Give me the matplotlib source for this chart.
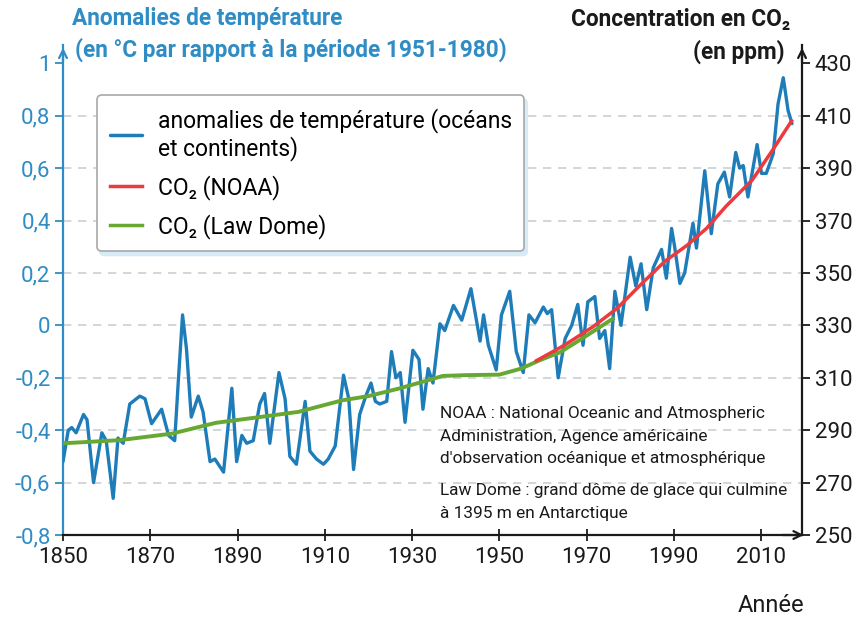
import matplotlib
matplotlib.use('Agg')
import matplotlib.pyplot as plt
from matplotlib.ticker import FixedLocator, FuncFormatter

FONT = ['Roboto', 'DejaVu Sans']
plt.rcParams['font.family'] = FONT

# ---- data ----
temp_years = [1850.0, 1851.2, 1852.0, 1853.0, 1854.7, 1855.5, 1857.0, 1858.9, 1859.9, 1861.5,
              1862.6, 1863.8, 1865.3, 1867.6, 1868.8, 1870.3, 1872.6, 1874.2, 1875.6, 1876.4,
              1877.4, 1878.3, 1879.4, 1881.0, 1882.1, 1883.7, 1884.8, 1886.8, 1888.7, 1889.8,
              1891.0, 1892.1, 1893.6, 1895.1, 1896.2, 1897.4, 1899.5, 1900.9, 1902.0, 1903.5,
              1905.5, 1906.6, 1908.1, 1909.7, 1910.8, 1912.4, 1914.3, 1915.5, 1916.6, 1918.0,
              1919.4, 1920.6, 1921.6, 1922.6, 1924.2, 1925.3, 1926.3, 1927.3, 1928.4, 1930.2,
              1931.6, 1932.5, 1933.7, 1934.8, 1936.4, 1937.5, 1939.5, 1941.4, 1943.5, 1945.6,
              1946.4, 1947.5, 1949.3, 1950.5, 1952.4, 1953.9, 1955.5, 1956.8, 1958.2, 1960.1,
              1961.0, 1962.0, 1963.5, 1965.1, 1966.6, 1968.0, 1969.2, 1970.3, 1971.9, 1973.0,
              1974.2, 1975.3, 1976.5, 1977.9, 1980.0, 1981.3, 1982.5, 1983.8, 1985.3, 1987.2,
              1988.3, 1989.5, 1990.2, 1991.4, 1992.5, 1994.4, 1995.2, 1997.1, 1998.6, 2000.1,
              2001.6, 2002.8, 2004.2, 2005.1, 2005.9, 2007.0, 2009.1, 2010.1, 2011.2, 2012.8,
              2013.9, 2015.1, 2016.2, 2017.1]
temp_values = [-0.52, -0.40, -0.39, -0.41, -0.34, -0.36, -0.60, -0.41, -0.44, -0.66,
               -0.43, -0.45, -0.30, -0.27, -0.28, -0.375, -0.32, -0.42, -0.44, -0.22,
               0.04, -0.09, -0.35, -0.27, -0.33, -0.52, -0.51, -0.56, -0.24, -0.52,
               -0.42, -0.45, -0.44, -0.30, -0.26, -0.45, -0.18, -0.28, -0.50, -0.53,
               -0.29, -0.48, -0.51, -0.53, -0.51, -0.46, -0.19, -0.28, -0.55, -0.34,
               -0.27, -0.22, -0.29, -0.30, -0.29, -0.10, -0.20, -0.18, -0.37, -0.095,
               -0.13, -0.32, -0.165, -0.22, 0.006, -0.02, 0.076, 0.02, 0.14, -0.06,
               0.04, -0.076, -0.17, 0.04, 0.13, -0.10, -0.18, 0.04, 0.01, 0.07,
               0.045, 0.06, -0.20, -0.05, 0.0, 0.08, -0.076, 0.09, 0.11, -0.05,
               -0.02, -0.165, 0.13, 0.0, 0.26, 0.15, 0.235, 0.06, 0.22, 0.29,
               0.18, 0.37, 0.30, 0.16, 0.20, 0.39, 0.295, 0.59, 0.35, 0.54,
               0.585, 0.49, 0.66, 0.60, 0.61, 0.49, 0.69, 0.58, 0.58, 0.655,
               0.845, 0.945, 0.82, 0.77]

co2_law_years = [1850, 1863, 1875, 1885, 1895, 1904, 1914, 1920, 1927, 1935,
                 1937, 1942, 1950, 1955, 1959, 1964, 1969, 1976]
co2_law_ppm = [285, 286.2, 288.7, 292.8, 295, 297, 301.4, 303, 305.9, 309.7,
               310.7, 311, 311.2, 313.5, 316.5, 319.8, 325, 332.5]

co2_noaa_years = [1958.5, 1965, 1971.5, 1977, 1983, 1988, 1993, 1997.5, 2002, 2008, 2012.7, 2017]
co2_noaa_ppm = [316.5, 322.5, 329.5, 336.5, 346.5, 354.5, 360.5, 367, 375.5, 385.5, 397, 408]

x_ticks = [1850, 1870, 1890, 1910, 1930, 1950, 1970, 1990, 2010]
temp_ticks = [-0.8, -0.6, -0.4, -0.2, 0, 0.2, 0.4, 0.6, 0.8, 1]
grid_levels = [-0.6, -0.4, -0.2, 0, 0.2, 0.4, 0.6, 0.8]
ppm_ticks = [250, 270, 290, 310, 330, 350, 370, 390, 410, 430]

label_temp = "anomalies de température (océans\net continents)"
label_noaa = "CO₂ (NOAA)"
label_law = "CO₂ (Law Dome)"

BLUE = '#1e7db9'
AXBLUE = '#2f8cc4'
RED = '#ec3b3f'
GREEN = '#66a832'
DARK = '#1a1a1a'

fig = plt.figure(figsize=(8.68, 6.24), dpi=100)
fig.patch.set_facecolor('white')
ax = fig.add_axes([0.0726, 0.1426, 0.8514, 0.7853])
ax2 = ax.twinx()

ax.set_xlim(1850, 2019.4)
ax.set_ylim(-0.8, 1.07)
ax2.set_ylim(250, 437)

for g in grid_levels:
    ax.axhline(g, color='#c9cfd6', lw=1.2, dashes=(5, 4), zorder=0)

l1, = ax.plot(temp_years, temp_values, color=BLUE, lw=2.4, solid_joinstyle='round',
              solid_capstyle='round', zorder=3, label=label_temp)
l3, = ax2.plot(co2_law_years, co2_law_ppm, color=GREEN, lw=2.8, zorder=3, label=label_law)
l2, = ax2.plot(co2_noaa_years, co2_noaa_ppm, color=RED, lw=2.5, zorder=4, label=label_noaa)

# spines
ax.spines['top'].set_visible(False)
ax2.spines['top'].set_visible(False)
ax.spines['right'].set_visible(False)
ax2.spines['left'].set_visible(False)
ax2.spines['bottom'].set_visible(False)
ax.spines['left'].set_color(AXBLUE)
ax.spines['left'].set_linewidth(1.6)
ax.spines['bottom'].set_color(DARK)
ax.spines['bottom'].set_linewidth(1.6)
ax2.spines['right'].set_color(DARK)
ax2.spines['right'].set_linewidth(1.6)

ax.xaxis.set_major_locator(FixedLocator(x_ticks))
ax.tick_params(axis='x', direction='inout', length=9, width=1.3, colors=DARK,
               labelsize=16, pad=4)
ax.yaxis.set_major_locator(FixedLocator(temp_ticks))
ax.yaxis.set_major_formatter(FuncFormatter(
    lambda v, p: ('%g' % v).replace('.', ',') if abs(v) > 1e-9 else '0'))
ax.tick_params(axis='y', direction='out', length=6, width=1.3, colors=AXBLUE,
               labelsize=16, pad=3)
ax2.yaxis.set_major_locator(FixedLocator(ppm_ticks))
ax2.tick_params(axis='y', direction='out', length=6, width=1.3, colors=DARK,
                labelsize=16, pad=3)

# arrows on axes
ax.annotate('', xy=(0, 1.0), xytext=(0, 0.96), xycoords='axes fraction',
            arrowprops=dict(arrowstyle='->', color=AXBLUE, lw=1.6, mutation_scale=14))
ax2.annotate('', xy=(1, 1.0), xytext=(1, 0.96), xycoords='axes fraction',
             arrowprops=dict(arrowstyle='->', color=DARK, lw=1.6, mutation_scale=14))
ax2.annotate('', xy=(1.006, 0), xytext=(0.97, 0), xycoords='axes fraction',
             arrowprops=dict(arrowstyle='->', color=DARK, lw=1.6, mutation_scale=14))

leg = ax2.legend(handles=[l1, l2, l3], loc='upper left', bbox_to_anchor=(0.046, 0.898),
                 borderaxespad=0, fontsize=16.5, frameon=True, fancybox=True,
                 handlelength=1.4, handletextpad=0.7, borderpad=0.55, labelspacing=0.6,
                 edgecolor='#a8a8a8', framealpha=1,
                 shadow={'color': '#d6ebf6', 'alpha': 1, 'ox': 2, 'oy': -3})
leg.get_frame().set_linewidth(1.2)
for h in leg.legend_handles:
    h.set_linewidth(2.5)

# titles
fig.text(0.083, 0.971, 'Anomalies de température', color=AXBLUE, fontsize=16.3,
         fontweight='bold', ha='left', va='center')
fig.text(0.0864, 0.920, '(en °C par rapport à la période 1951-1980)', color=AXBLUE,
         fontsize=16.3, fontweight='bold', ha='left', va='center')
fig.text(0.910, 0.968, 'Concentration en CO₂', color=DARK, fontsize=16.3,
         fontweight='bold', ha='right', va='center')
fig.text(0.904, 0.917, '(en ppm)', color=DARK, fontsize=16.3, fontweight='bold',
         ha='right', va='center')
fig.text(0.927, 0.030, 'Année', color=DARK, fontsize=17, ha='right', va='center')

note = ("NOAA : National Oceanic and Atmospheric\n"
        "Administration, Agence américaine\n"
        "d'observation océanique et atmosphérique")
note2 = ("Law Dome : grand dôme de glace qui culmine\n"
         "à 1395 m en Antarctique")
fig.text(0.507, 0.301, note, fontsize=12.4, ha='left', va='center', linespacing=1.65,
         color=DARK)
fig.text(0.507, 0.1955, note2, fontsize=12.4, ha='left', va='center', linespacing=1.65,
         color=DARK)

fig.savefig('out.png', dpi=100, facecolor='white')
